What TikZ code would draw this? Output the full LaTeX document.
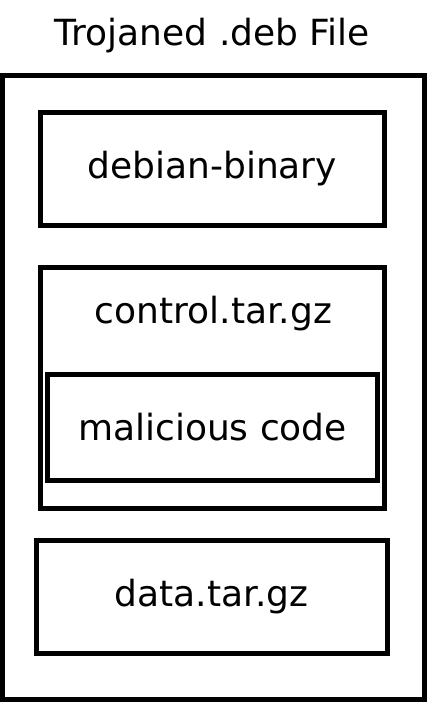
\documentclass[tikz,border=0pt]{standalone}
\usepackage{fontspec}
\setmainfont{DejaVu Sans}
\usepackage{tikz}
\usetikzlibrary{positioning}

\begin{document}
\begin{tikzpicture}[
    x=1pt, y=-1pt,
    part/.style={draw, line width=5pt, inner sep=0pt, align=center, font=\fontsize{36}{43}\selectfont},
    caption/.style={inner sep=0pt, font=\fontsize{36}{43}\selectfont},
]
    \useasboundingbox (0,0) rectangle (432,704);

    % Title
    \node[caption, anchor=base] (title) at (212.5,45) {Trojaned .deb File};

    % Outer package
    \node[part, minimum width=421.5pt, minimum height=623.5pt] (deb) at (213.25,387.25) {};

    % Members
    \node[part, minimum width=344.5pt, minimum height=113pt] (binary) at (212.25,169) {debian-binary};
    \node[part, minimum width=344pt, minimum height=240.5pt] (control) at (212.5,387.75) {};
    \node[caption, anchor=base] (controllabel) at (213.5,323) {control.tar.gz};
    \node[part, minimum width=330pt, minimum height=106pt] (malicious) at (212.5,427.5) {malicious code};
    \node[part, minimum width=351pt, minimum height=113pt] (data) at (211.5,596.5) {data.tar.gz};
\end{tikzpicture}
\end{document}
